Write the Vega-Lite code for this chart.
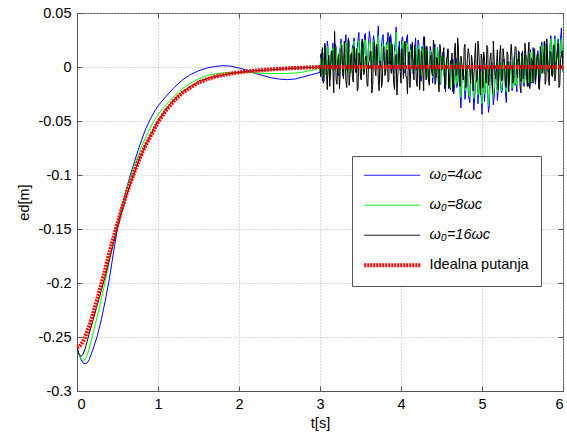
{
  "$schema": "https://vega.github.io/schema/vega-lite/v6.json",
  "width": 486,
  "height": 378,
  "autosize": {"type": "none"},
  "padding": {"left": 77, "top": 13, "right": 4, "bottom": 45},
  "background": "white",
  "config": {
    "font": "Liberation Sans",
    "view": {"stroke": "#555555", "strokeWidth": 1},
    "axis": {"labelFont": "Liberation Sans", "titleFont": "Liberation Sans", "labelFontSize": 14.5, "titleFontSize": 14.5, "titleFontWeight": "normal", "labelColor": "#000000", "titleColor": "#000000", "tickColor": "#555555", "domainColor": "#555555", "tickSize": -5, "labelPadding": 11}
  },
  "data": {
    "values": "t,ω₀=4ωc,ω₀=8ωc,ω₀=16ωc,Idealna putanja\n0,-0.26,-0.26,-0.26,-0.26\n0.025,-0.266,-0.266,-0.266,-0.259\n0.05,-0.271,-0.27,-0.268,-0.257\n0.075,-0.274,-0.272,-0.266,-0.254\n0.1,-0.2747,-0.271,-0.261,-0.25\n0.125,-0.274,-0.267,-0.254,-0.245\n0.15,-0.271,-0.261,-0.247,-0.24\n0.2,-0.261,-0.246,-0.234,-0.228\n0.25,-0.249,-0.231,-0.22,-0.215\n0.3,-0.234,-0.215,-0.207,-0.201\n0.35,-0.216,-0.198,-0.193,-0.187\n0.4,-0.196,-0.18,-0.178,-0.172\n0.45,-0.172,-0.162,-0.163,-0.158\n0.5,-0.149,-0.145,-0.149,-0.145\n0.55,-0.131,-0.13,-0.135,-0.132\n0.6,-0.116,-0.116,-0.122,-0.12\n0.65,-0.102,-0.104,-0.11,-0.109\n0.7,-0.09,-0.093,-0.099,-0.099\n0.75,-0.078,-0.083,-0.089,-0.089\n0.8,-0.067,-0.073,-0.08,-0.08\n0.85,-0.057,-0.065,-0.072,-0.072\n0.9,-0.049,-0.057,-0.064,-0.065\n0.95,-0.042,-0.05,-0.057,-0.058\n1,-0.036,-0.044,-0.05,-0.051\n1.1,-0.027,-0.035,-0.039,-0.04\n1.2,-0.019,-0.027,-0.03,-0.031\n1.3,-0.012,-0.02,-0.023,-0.024\n1.4,-0.007,-0.015,-0.018,-0.019\n1.5,-0.0035,-0.011,-0.014,-0.0145\n1.6,-0.001,-0.008,-0.011,-0.0115\n1.7,0.0005,-0.0065,-0.009,-0.009\n1.8,0.0012,-0.0055,-0.0075,-0.0075\n1.9,0.0008,-0.005,-0.006,-0.006\n2,-0.001,-0.005,-0.005,-0.005\n2.1,-0.003,-0.005,-0.004,-0.004\n2.2,-0.006,-0.0055,-0.0035,-0.0035\n2.3,-0.008,-0.0058,-0.003,-0.0028\n2.4,-0.01,-0.006,-0.0025,-0.0022\n2.5,-0.0112,-0.006,-0.002,-0.0017\n2.6,-0.0117,-0.006,-0.0015,-0.0013\n2.7,-0.011,-0.0055,-0.001,-0.0009\n2.8,-0.009,-0.0045,-0.0007,-0.0006\n2.9,-0.007,-0.003,-0.0003,-0.0003\n3,-0.005,-0.001,0,0\n3.02,0.001,0.003,0.012,0\n3.04,-0.008,-0.009,-0.015,0\n3.06,0.019,0.016,0.022,0\n3.08,-0.002,-0.004,-0.008,0\n3.1,0.018,0.017,0.005,0\n3.12,-0.012,-0.011,-0.018,0\n3.14,0.015,0.014,0.014,0\n3.16,0.022,0.018,-0.004,0\n3.18,0.004,0,0.033,0\n3.2,0.018,0.015,-0.012,0\n3.22,-0.005,-0.002,0.007,0\n3.24,0.014,0.008,-0.02,0\n3.26,0.026,0.022,0.016,0\n3.28,0.001,-0.001,-0.006,0\n3.3,0.013,0.013,0.024,0\n3.32,0.03,0.023,-0.013,0\n3.34,0.006,0.007,0.003,0\n3.36,0.023,0.018,-0.017,0\n3.38,-0.004,-0.006,0.011,0\n3.4,0.02,0.017,-0.009,0\n3.42,0.027,0.024,0.019,0\n3.44,0.005,0.001,-0.005,0\n3.46,0.017,0.015,-0.022,0\n3.48,0.032,0.024,0.013,0\n3.5,0.002,0.005,-0.01,0\n3.52,0.024,0.018,0.026,0\n3.54,0.012,0.012,-0.007,0\n3.56,0.031,0.025,0.009,0\n3.58,0.001,-0.002,-0.016,0\n3.6,0.023,0.019,0.004,0\n3.62,0.026,0.023,0.015,0\n3.64,-0.001,-0.004,-0.024,0\n3.66,0.029,0.024,0.008,0\n3.68,0.017,0.012,-0.003,0\n3.7,0.008,0.009,0.021,0\n3.72,0.038,0.029,-0.011,0\n3.74,0.005,0.006,0.006,0\n3.76,0.021,0.017,-0.019,0\n3.78,0.03,0.021,0.017,0\n3.8,0.002,0.003,-0.008,0\n3.82,0.023,0.02,0.01,0\n3.84,0.032,0.023,-0.014,0\n3.86,0.008,0.007,0.028,0\n3.88,0.026,0.019,-0.006,0\n3.9,-0.002,0.001,0.002,0\n3.92,0.018,0.013,-0.021,0\n3.94,0.037,0.032,0.012,0\n3.96,0.004,0.003,-0.01,0\n3.98,0.024,0.016,0.018,0\n4,0.009,0.008,-0.015,0\n4.02,0.028,0.024,0.005,0\n4.04,0.001,-0.002,0.02,0\n4.06,0.019,0.016,-0.009,0\n4.08,0.03,0.022,-0.025,0\n4.1,-0.002,0.001,0.014,0\n4.12,0.021,0.016,-0.004,0\n4.14,0.014,0.013,0.023,0\n4.16,0.003,0.002,-0.012,0\n4.18,0.027,0.019,0.007,0\n4.2,0.005,0.005,-0.018,0\n4.22,0.022,0.02,0.016,0\n4.24,-0.007,-0.009,-0.007,0\n4.26,0.019,0.016,0.011,0\n4.28,0.028,0.02,-0.022,0\n4.3,0.001,0.004,0.004,0\n4.32,0.01,0.007,0.019,0\n4.34,-0.008,-0.004,-0.013,0\n4.36,0.019,0.015,0.008,0\n4.38,0.012,0.007,-0.005,0\n4.4,-0.007,-0.005,0.025,0\n4.42,0.021,0.019,-0.016,0\n4.44,-0.002,-0.005,0.009,0\n4.46,0.013,0.011,-0.011,0\n4.48,-0.016,-0.015,0.021,0\n4.5,0.009,0.01,-0.003,0\n4.52,0.014,0.01,0.013,0\n4.54,-0.01,-0.006,-0.02,0\n4.56,0.002,0.002,0.006,0\n4.58,0.015,0.009,0.017,0\n4.6,-0.018,-0.013,-0.01,0\n4.62,0,0.002,0.003,0\n4.64,0.007,0.003,-0.023,0\n4.66,-0.019,-0.014,0.015,0\n4.68,0.008,0.004,-0.008,0\n4.7,-0.013,-0.007,0.027,0\n4.72,-0.002,-0.003,-0.014,0\n4.74,-0.038,-0.028,0.01,0\n4.76,0.001,0.001,-0.006,0\n4.78,-0.009,-0.01,0.018,0\n4.8,-0.021,-0.016,-0.019,0\n4.82,0.001,0.003,0.008,0\n4.84,-0.03,-0.027,0.012,0\n4.86,-0.007,-0.005,-0.015,0\n4.88,0.003,0,0.005,0\n4.9,-0.04,-0.029,-0.009,0\n4.92,-0.014,-0.012,0.022,0\n4.94,-0.005,-0.002,-0.012,0\n4.96,-0.022,-0.018,0.016,0\n4.98,-0.001,-0.004,-0.026,0\n5,-0.044,-0.034,0.007,0\n5.02,-0.009,-0.005,0.014,0\n5.04,-0.021,-0.02,-0.005,0\n5.06,-0.003,-0.001,0.02,0\n5.08,-0.042,-0.036,-0.017,0\n5.1,-0.01,-0.005,0.009,0\n5.12,0.004,0.002,-0.011,0\n5.14,-0.035,-0.026,0.024,0\n5.16,-0.011,-0.009,-0.008,0\n5.18,-0.001,-0.004,0.004,0\n5.2,-0.022,-0.017,-0.021,0\n5.22,0.004,0.005,0.013,0\n5.24,-0.024,-0.022,-0.013,0\n5.26,-0.006,-0.004,0.017,0\n5.28,0,-0.002,0.002,0\n5.3,-0.033,-0.023,-0.019,0\n5.32,0.005,0.003,0.011,0\n5.34,-0.011,-0.007,-0.007,0\n5.36,0,0,0.021,0\n5.38,-0.02,-0.019,-0.015,0\n5.4,0.01,0.009,0.006,0\n5.42,-0.012,-0.008,0.018,0\n5.44,0.007,0.003,-0.01,0\n5.46,0.014,0.012,0.009,0\n5.48,-0.013,-0.012,-0.024,0\n5.5,0.001,0.004,0.015,0\n5.52,-0.018,-0.015,-0.004,0\n5.54,0.011,0.011,0.012,0\n5.56,0.006,0.005,-0.018,0\n5.58,-0.012,-0.013,0.023,0\n5.6,0.016,0.014,-0.009,0\n5.62,-0.005,-0.002,0.005,0\n5.64,0.015,0.009,0.016,0\n5.66,-0.016,-0.012,-0.014,0\n5.68,0.011,0.007,0.01,0\n5.7,0.006,0.008,-0.02,0\n5.72,-0.008,-0.007,0.019,0\n5.74,0.023,0.02,-0.006,0\n5.76,-0.002,-0.002,0.008,0\n5.78,0.014,0.008,-0.016,0\n5.8,0.021,0.018,0.026,0\n5.82,-0.005,-0.002,-0.011,0\n5.84,0.02,0.013,0.014,0\n5.86,0.015,0.013,-0.008,0\n5.88,-0.006,-0.007,0.02,0\n5.9,0.029,0.026,-0.013,0\n5.92,0.007,0.005,0.007,0\n5.94,0.026,0.023,0.022,0\n5.96,0.012,0.01,-0.017,0\n5.98,0.036,0.026,0.011,0\n6,0.006,0.006,-0.005,0\n3.01,0.012,0.008,-0.009,0\n3.03,-0.013,-0.009,0.018,0\n3.05,0.01,0.011,-0.013,0\n3.07,-0.007,-0.007,0.006,0\n3.09,0.024,0.019,-0.021,0\n3.11,-0.001,0.001,0.011,0\n3.13,-0.008,-0.009,-0.003,0\n3.15,0.011,0.01,0.015,0\n3.17,-0.003,-0.003,-0.024,0\n3.19,0.021,0.019,0.008,0\n3.21,0.003,0,-0.016,0\n3.23,-0.008,-0.005,0.012,0\n3.25,0.018,0.017,-0.004,0\n3.27,0.007,0.005,0.02,0\n3.29,-0.01,-0.008,-0.011,0\n3.31,0.016,0.015,0.007,0\n3.33,-0.001,-0.004,-0.019,0\n3.35,0.027,0.023,0.025,0\n3.37,0.004,0.002,-0.006,0\n3.39,-0.002,0,0.013,0\n3.41,0.02,0.014,-0.014,0\n3.43,0.009,0.008,0.003,0\n3.45,-0.005,-0.001,0.017,0\n3.47,0.025,0.019,-0.02,0\n3.49,0.005,0.004,0.009,0\n3.51,0.017,0.016,-0.012,0\n3.53,-0.001,-0.004,0.022,0\n3.55,0.03,0.025,-0.005,0\n3.57,0.009,0.006,0.01,0\n3.59,0.006,0.007,-0.018,0\n3.61,0.033,0.024,0.006,0\n3.63,0.003,0.003,0.014,0\n3.65,0.015,0.015,-0.017,0\n3.67,0.024,0.018,0.023,0\n3.69,-0.002,-0.002,-0.008,0\n3.71,0.026,0.023,0.011,0\n3.73,0.01,0.005,-0.022,0\n3.75,0.001,0.002,0.004,0\n3.77,0.028,0.021,-0.013,0\n3.79,0.007,0.008,0.019,0\n3.81,-0.002,-0.004,-0.007,0\n3.83,0.021,0.018,0.016,0\n3.85,0.003,0.005,-0.012,0\n3.87,0.03,0.023,0.002,0\n3.89,0.01,0.008,0.021,0\n3.91,-0.006,-0.003,-0.015,0\n3.93,0.023,0.015,0.008,0\n3.95,0.003,0.003,-0.026,0\n3.97,0.017,0.013,0.013,0\n3.99,-0.003,0,-0.004,0\n4.01,0.025,0.018,0.017,0\n4.03,0.006,0.006,-0.011,0\n4.05,-0.006,-0.002,0.024,0\n4.07,0.027,0.021,-0.009,0\n4.09,0.003,0.002,0.006,0\n4.11,0.009,0.009,-0.019,0\n4.13,0.019,0.012,0.012,0\n4.15,-0.006,-0.004,-0.003,0\n4.17,0.016,0.012,0.02,0\n4.19,-0.003,0,-0.014,0\n4.21,0.025,0.018,0.009,0\n4.23,-0.002,-0.001,-0.021,0\n4.25,-0.013,-0.007,0.015,0\n4.27,0.014,0.01,-0.006,0\n4.29,0.003,0.002,0.028,0\n4.31,0.019,0.017,-0.012,0\n4.33,-0.009,-0.01,0.005,0\n4.35,-0.003,-0.001,-0.017,0\n4.37,0.014,0.01,0.011,0\n4.39,-0.015,-0.01,-0.008,0\n4.41,0.006,0.003,0.019,0\n4.43,-0.01,-0.007,-0.013,0\n4.45,0.018,0.017,0.007,0\n4.47,-0.009,-0.008,-0.023,0\n4.49,-0.016,-0.013,0.014,0\n4.51,0.007,0.008,-0.002,0\n4.53,-0.008,-0.009,0.018,0\n4.55,-0.023,-0.017,-0.016,0\n4.57,0.007,0.005,0.01,0\n4.59,-0.013,-0.008,-0.02,0\n4.61,-0.021,-0.019,0.006,0\n4.63,0.003,0.003,0.013,0\n4.65,-0.025,-0.017,-0.011,0\n4.67,-0.007,-0.007,0.022,0\n4.69,-0.019,-0.015,-0.007,0\n4.71,0.007,0.008,0.015,0\n4.73,-0.025,-0.023,-0.018,0\n4.75,-0.016,-0.012,0.004,0\n4.77,-0.007,-0.007,-0.012,0\n4.79,-0.03,-0.022,0.021,0\n4.81,-0.005,-0.006,-0.009,0\n4.83,-0.023,-0.017,0.017,0\n4.85,-0.033,-0.023,-0.005,0\n4.87,-0.001,-0.002,0.011,0\n4.89,-0.019,-0.015,-0.022,0\n4.91,-0.028,-0.02,0.008,0\n4.93,-0.012,-0.013,-0.014,0\n4.95,-0.034,-0.026,0.024,0\n4.97,-0.005,-0.005,-0.003,0\n4.99,-0.027,-0.02,0.012,0\n5.01,-0.014,-0.013,-0.019,0\n5.03,-0.032,-0.025,0.009,0\n5.05,-0.001,0.002,-0.015,0\n5.07,-0.023,-0.019,0.018,0\n5.09,-0.036,-0.029,-0.006,0\n5.11,-0.005,-0.002,0.013,0\n5.13,-0.019,-0.018,-0.024,0\n5.15,-0.028,-0.021,0.007,0\n5.17,-0.007,-0.007,-0.011,0\n5.19,-0.031,-0.023,0.016,0\n5.21,-0.002,-0.004,-0.004,0\n5.23,-0.018,-0.013,0.02,0\n5.25,-0.022,-0.015,-0.012,0\n5.27,0.007,0.005,0.009,0\n5.29,-0.024,-0.019,-0.017,0\n5.31,-0.007,-0.004,0.014,0\n5.33,-0.016,-0.016,-0.023,0\n5.35,0.005,0.005,0.006,0\n5.37,-0.022,-0.019,0.01,0\n5.39,0.001,0.003,-0.013,0\n5.41,-0.017,-0.016,0.019,0\n5.43,-0.023,-0.017,-0.007,0\n5.45,0.005,0.007,0.015,0\n5.47,-0.008,-0.007,-0.018,0\n5.49,0.013,0.01,0.004,0\n5.51,-0.016,-0.011,-0.011,0\n5.53,-0.01,-0.011,0.022,0\n5.55,0.009,0.008,-0.009,0\n5.57,-0.018,-0.015,0.013,0\n5.59,0.004,0.005,-0.02,0\n5.61,-0.015,-0.014,0.008,0\n5.63,0.018,0.015,-0.015,0\n5.65,-0.008,-0.003,0.017,0\n5.67,0,-0.001,-0.005,0\n5.69,0.015,0.012,0.012,0\n5.71,-0.014,-0.009,-0.021,0\n5.73,0.013,0.007,0.011,0\n5.75,0,0.001,-0.003,0\n5.77,-0.006,-0.006,0.024,0\n5.79,0.022,0.02,-0.012,0\n5.81,-0.001,-0.003,0.006,0\n5.83,0.006,0.006,-0.017,0\n5.85,0.029,0.026,0.014,0\n5.87,-0.004,-0.004,-0.009,0\n5.89,0.02,0.016,0.02,0\n5.91,0.002,0.004,-0.006,0\n5.93,0.017,0.011,0.013,0\n5.95,-0.002,-0.001,-0.019,0\n5.97,0.026,0.02,0.008,0\n5.99,0.01,0.01,0.015,0",
    "format": {"type": "csv", "parse": {"t": "number", "ω₀=4ωc": "number", "ω₀=8ωc": "number", "ω₀=16ωc": "number", "Idealna putanja": "number"}}
  },
  "transform": [
    {"fold": ["ω₀=4ωc", "ω₀=8ωc", "ω₀=16ωc", "Idealna putanja"], "as": ["series", "e"]}
  ],
  "layer": [
    {
      "transform": [{"filter": "datum.series !== 'Idealna putanja'"}],
      "mark": {"type": "line", "clip": true, "strokeWidth": 1},
      "encoding": {
        "x": {"field": "t", "type": "quantitative", "scale": {"domain": [0, 6], "nice": false},
          "axis": {"values": [0, 1, 2, 3, 4, 5, 6], "format": "d", "grid": true, "gridDash": [1, 2], "gridColor": "#b4b4b4", "title": "t[s]", "titlePadding": 6}},
        "y": {"field": "e", "type": "quantitative", "scale": {"domain": [-0.3, 0.05], "nice": false, "zero": false},
          "axis": {"values": [-0.3, -0.25, -0.2, -0.15, -0.1, -0.05, 0, 0.05], "format": "~g", "labelExpr": "replace(datum.label, '−', '-')", "grid": true, "gridDash": [1, 2], "gridColor": "#b4b4b4", "title": "ed[m]", "titlePadding": 6}},
        "color": {"field": "series", "type": "nominal",
          "scale": {"domain": ["ω₀=4ωc", "ω₀=8ωc", "ω₀=16ωc", "Idealna putanja"], "range": ["#0000ff", "#00ff00", "#000000", "#ff0000"]},
          "legend": {"title": null, "orient": "none", "legendX": 275, "legendY": 143, "symbolType": "M-1,0H7", "symbolSize": 196, "labelFontSize": 14.5, "labelColor": "#000000", "fillColor": "white", "strokeColor": "#555555", "padding": 12, "rowPadding": 15, "labelOffset": 51, "labelLimit": 300,
            "encode": {
              "labels": {"update": {"fontStyle": {"signal": "datum.value === 'Idealna putanja' ? 'normal' : 'italic'"}}},
              "symbols": {"update": {"strokeWidth": {"signal": "datum.value === 'Idealna putanja' ? 4 : 1"}, "strokeDash": {"signal": "datum.value === 'Idealna putanja' ? [2, 1] : [1, 0]"}, "fill": {"value": "transparent"}}}
            }}}
      }
    },
    {
      "transform": [{"filter": "datum.series === 'Idealna putanja'"}],
      "mark": {"type": "line", "clip": true, "strokeWidth": 4, "strokeDash": [2, 1]},
      "encoding": {
        "x": {"field": "t", "type": "quantitative", "scale": {"domain": [0, 6], "nice": false},
          "axis": {"values": [0, 1, 2, 3, 4, 5, 6], "labels": false, "grid": false, "domain": false, "title": null}},
        "y": {"field": "e", "type": "quantitative", "scale": {"domain": [-0.3, 0.05], "nice": false, "zero": false},
          "axis": {"values": [-0.3, -0.25, -0.2, -0.15, -0.1, -0.05, 0, 0.05], "labels": false, "grid": false, "domain": false, "title": null}},
        "color": {"field": "series", "type": "nominal",
          "scale": {"domain": ["ω₀=4ωc", "ω₀=8ωc", "ω₀=16ωc", "Idealna putanja"], "range": ["#0000ff", "#00ff00", "#000000", "#ff0000"]},
          "legend": {"title": null, "orient": "none", "legendX": 275, "legendY": 143, "symbolType": "M-1,0H7", "symbolSize": 196, "labelFontSize": 14.5, "labelColor": "#000000", "fillColor": "white", "strokeColor": "#555555", "padding": 12, "rowPadding": 15, "labelOffset": 51, "labelLimit": 300,
            "encode": {
              "labels": {"update": {"fontStyle": {"signal": "datum.value === 'Idealna putanja' ? 'normal' : 'italic'"}}},
              "symbols": {"update": {"strokeWidth": {"signal": "datum.value === 'Idealna putanja' ? 4 : 1"}, "strokeDash": {"signal": "datum.value === 'Idealna putanja' ? [2, 1] : [1, 0]"}, "fill": {"value": "transparent"}}}
            }}}
      }
    }
  ],
  "resolve": {"axis": {"x": "independent", "y": "independent"}}
}
